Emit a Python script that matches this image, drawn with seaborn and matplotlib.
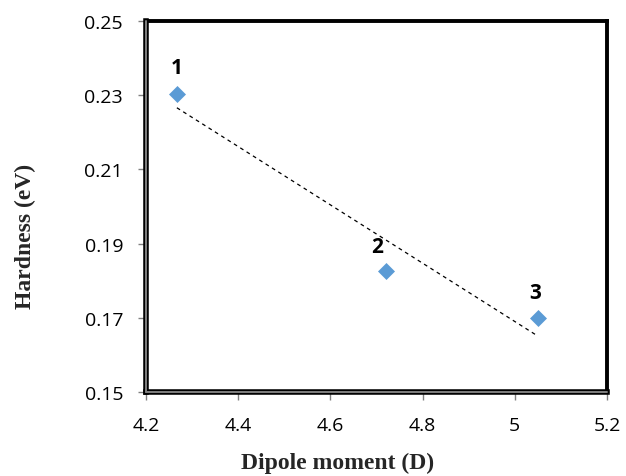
import numpy as np
import pandas as pd
import matplotlib
matplotlib.use("Agg")
import matplotlib.pyplot as plt
import seaborn as sns

dipole = [4.267, 4.72, 5.05]
hardness = [0.2302, 0.1825, 0.1700]
labels = ["1", "2", "3"]
label_offsets = [(0, 27), (-9, 25), (-3, 25)]
x_ticks = [4.2, 4.4, 4.6, 4.8, 5.0, 5.2]
x_tick_labels = ["4.2", "4.4", "4.6", "4.8", "5", "5.2"]
y_ticks = [0.15, 0.17, 0.19, 0.21, 0.23, 0.25]

sns.set_style("white")
plt.rcParams['font.family'] = ['Open Sans', 'DejaVu Sans']

df = pd.DataFrame({"Dipole": dipole, "Hardness": hardness})

fig = plt.figure(figsize=(6.26, 4.77), dpi=100)
ax = fig.add_axes([0.2332, 0.1761, 0.9696 - 0.2332, 0.9539 - 0.1761])

# linear trendline
coef = np.polyfit(df["Dipole"], df["Hardness"], 1)
xs = np.array([min(dipole), max(dipole)])
ax.plot(xs, np.polyval(coef, xs), linestyle=(0, (3, 3)), color="black", linewidth=0.9, zorder=2)

sns.scatterplot(data=df, x="Dipole", y="Hardness", marker="D", s=75,
                color="#5B9BD5", edgecolor="#5B9BD5", linewidth=0, ax=ax, zorder=3)

for xv, yv, lab, off in zip(dipole, hardness, labels, label_offsets):
    ax.annotate(lab, (xv, yv), xytext=off, textcoords="offset pixels",
                ha="center", va="center", fontsize=15, fontweight="bold",
                color="black")

ax.set_xlim(4.2, 5.2)
ax.set_ylim(0.15, 0.25)
ax.set_xticks(x_ticks)
ax.set_xticklabels(x_tick_labels)
ax.set_yticks(y_ticks)
ax.set_yticklabels([f"{v:.2f}" for v in y_ticks])
ax.tick_params(axis="both", which="major", direction="out", length=5.5, width=1,
               color="#808080", labelsize=14, labelcolor="black")
ax.tick_params(axis="x", pad=12)
ax.tick_params(axis="y", pad=11)
ax.tick_params(left=True, bottom=True)

for side in ["top", "right"]:
    ax.spines[side].set_visible(True)
    ax.spines[side].set_color("black")
    ax.spines[side].set_linewidth(2.8)
for side in ["left", "bottom"]:
    ax.spines[side].set_visible(True)
    ax.spines[side].set_color("black")
    ax.spines[side].set_linewidth(4.0)
ax.axvline(4.2, color="#808080", linewidth=1.4, clip_on=False, zorder=5)
ax.axhline(0.15, color="#808080", linewidth=1.4, clip_on=False, zorder=5)

ax.set_xlabel("Dipole moment (D)", fontfamily="Liberation Serif", fontweight="bold",
              fontsize=17)
ax.set_ylabel("Hardness (eV)", fontfamily="Liberation Serif", fontweight="bold",
              fontsize=17)
ax.xaxis.set_label_coords((338 - 146) / 461, (393 - 463) / 371)
ax.xaxis.label.set_va("center")
ax.yaxis.set_label_coords((25 - 146) / 461, (393 - 236.5) / 371)
ax.yaxis.label.set_va("center")
ax.grid(False)

fig.savefig("out.png", dpi=100)
